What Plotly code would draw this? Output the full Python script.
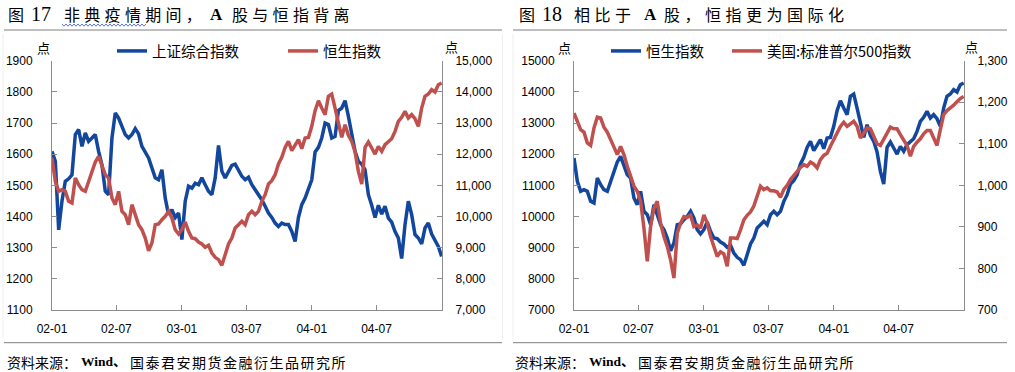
import pandas as pd
import plotly.graph_objects as go

# ---------------- data ----------------
start_date = "2002-01-01"
end_date = "2004-12-31"

sse = [1609, 1577, 1357, 1450, 1513, 1521, 1534, 1663, 1679, 1625,
       1668, 1641, 1652, 1663, 1609, 1566, 1481, 1470, 1652, 1732,
       1716, 1689, 1663, 1652, 1663, 1682, 1665, 1625, 1604, 1588,
       1556, 1524, 1518, 1550, 1459, 1406, 1422, 1397, 1411, 1326,
       1449, 1497, 1491, 1507, 1502, 1524, 1502, 1481, 1470, 1524,
       1628, 1545, 1524, 1545, 1564, 1568, 1550, 1529, 1518, 1526,
       1502, 1486, 1475, 1454, 1433, 1411, 1397, 1379, 1368, 1379,
       1374, 1374, 1352, 1320, 1397, 1438, 1459, 1491, 1518, 1607,
       1622, 1652, 1700, 1695, 1652, 1657, 1740, 1748, 1772, 1721,
       1671, 1609, 1577, 1568, 1550, 1470, 1436, 1397, 1436, 1408,
       1433, 1395, 1382, 1352, 1331, 1265, 1374, 1449, 1406, 1342,
       1331, 1312, 1363, 1379, 1344, 1326, 1304, 1272]

hsi = [11877, 11128, 10808, 10861, 10808, 10487, 10433, 11235, 11021, 10861,
       10808, 11107, 11449, 11749, 11931, 11663, 11342, 11235, 10594, 10380,
       10808, 10166, 10059, 9738, 10380, 10059, 9738, 9578, 9310, 8900,
       9150, 9738, 9759, 9898, 10005, 10166, 9952, 9578, 9439, 9578,
       9824, 9524, 9310, 9289, 9182, 9118, 9011, 9075, 8829, 8690,
       8615, 8433, 8776, 9118, 9310, 9631, 9738, 9845, 9738, 10059,
       10166, 10059, 10166, 10487, 10701, 11043, 11150, 11342, 11685, 11898,
       12219, 12412, 12112, 12283, 12465, 12177, 12519, 12540, 12893, 13396,
       13717, 13481, 13267, 13856, 13930, 13481, 13032, 12540, 12947, 12604,
       12412, 12070, 11449, 11043, 12219, 12390, 12198, 12005, 12251, 12091,
       12305, 12412, 12497, 12733, 13054, 13182, 13374, 13160, 13267, 13139,
       12893, 13481, 13856, 13930, 14070, 13995, 14230, 14283]

spx = [1174, 1154, 1134, 1128, 1102, 1096, 1138, 1164, 1162, 1140,
       1128, 1110, 1094, 1074, 1094, 1074, 1046, 1022, 998, 986,
       962, 897, 817, 901, 945, 962, 909, 877, 853, 821,
       777, 885, 909, 925, 923, 928, 901, 905, 897, 929,
       909, 877, 853, 829, 840, 835, 805, 873, 873, 872,
       893, 917, 928, 936, 950, 974, 998, 990, 994, 987,
       987, 984, 971, 990, 1000, 1014, 1024, 1035, 1043, 1050,
       1046, 1056, 1051, 1042, 1062, 1072, 1077, 1094, 1110, 1130,
       1142, 1152, 1142, 1148, 1154, 1142, 1114, 1126, 1138, 1136,
       1118, 1100, 1096, 1110, 1128, 1140, 1136, 1136, 1122, 1108,
       1096, 1070, 1094, 1104, 1112, 1124, 1132, 1132, 1114, 1096,
       1134, 1170, 1180, 1186, 1193, 1201, 1209, 1214]

tick_dates = ["2002-01-01", "2002-07-01", "2003-01-01", "2003-07-01", "2004-01-01", "2004-07-01"]
tick_text = ["02-01", "02-07", "03-01", "03-07", "04-01", "04-07"]

name_sse = "上证综合指数"
name_hsi = "恒生指数"
name_spx = "美国:标准普尔500指数"

dates = pd.date_range(start_date, end_date, periods=len(sse))

# ---------------- styling ----------------
W, H = 1015, 372
BLUE = "#12479d"
RED = "#c0504d"
GREY = "#8c8c8c"
NUM_FONT = "Liberation Sans, Arial, sans-serif"
CJK_FONT = "Noto Sans CJK SC"
SERIF = "Liberation Serif, Noto Sans CJK SC"


def px(x):
    return x / W


def py(y):
    return 1 - y / H


YDOM = [py(310), py(60.7)]
XL = [px(52), px(442)]
XR = [px(574), px(964)]

fig = go.Figure()
fig.add_trace(go.Scatter(x=dates, y=sse, name=name_sse, mode="lines", legendwidth=126,
                         line=dict(color=BLUE, width=3.5), xaxis="x", yaxis="y", legend="legend"))
fig.add_trace(go.Scatter(x=dates, y=hsi, name=name_hsi, mode="lines", legendwidth=70,
                         line=dict(color=RED, width=3.5), xaxis="x", yaxis="y2", legend="legend"))
fig.add_trace(go.Scatter(x=dates, y=hsi, name=name_hsi, mode="lines", legendwidth=76,
                         line=dict(color=BLUE, width=3.5), xaxis="x2", yaxis="y3", legend="legend2"))
fig.add_trace(go.Scatter(x=dates, y=spx, name=name_spx, mode="lines", legendwidth=165,
                         line=dict(color=RED, width=3.5), xaxis="x2", yaxis="y4", legend="legend2"))

common_axis = dict(showline=True, linecolor=GREY, linewidth=1, ticks="inside", ticklen=5,
                   tickcolor=GREY, tickwidth=1, showgrid=False, zeroline=False, automargin=False,
                   tickfont=dict(family=NUM_FONT, size=12, color="#000"))

xcommon = dict(common_axis, type="date", range=["2002-01-01", "2005-01-01"],
               tickvals=tick_dates, ticktext=tick_text, ticklabelstandoff=8)

legend_common = dict(orientation="h", xanchor="left", y=py(51), yanchor="middle",
                     bgcolor="rgba(0,0,0,0)", font=dict(family=CJK_FONT, size=14.5, color="#000"),
                     itemwidth=30)

fig.update_layout(
    width=W, height=H, margin=dict(l=0, r=0, t=0, b=0, autoexpand=False),
    paper_bgcolor="white", plot_bgcolor="white",
    xaxis=dict(xcommon, domain=XL, anchor="y"),
    yaxis=dict(common_axis, domain=YDOM, anchor="x", range=[1100, 1900], tick0=1100, dtick=100,
               tickformat="d", ticklabelstandoff=16),
    yaxis2=dict(common_axis, overlaying="y", side="right", anchor="x", range=[7000, 15000],
                tick0=7000, dtick=1000, tickformat=",d", ticklabelstandoff=10),
    xaxis2=dict(xcommon, domain=XR, anchor="y3"),
    yaxis3=dict(common_axis, domain=YDOM, anchor="x2", range=[7000, 15000], tick0=7000, dtick=1000,
                tickformat="d", ticklabelstandoff=16),
    yaxis4=dict(common_axis, overlaying="y3", side="right", anchor="x2", range=[700, 1300],
                tick0=700, dtick=100, tickformat=",d", ticklabelstandoff=10),
    legend=dict(legend_common, x=px(112)),
    legend2=dict(legend_common, x=px(606)),
    showlegend=True,
)

shapes = []
for (x0, x1) in [(4, 502), (513, 1007)]:
    shapes.append(dict(type="line", xref="paper", yref="paper", x0=px(x0), x1=px(x1),
                       y0=py(30), y1=py(30), line=dict(color="#7f7f7f", width=1)))
    shapes.append(dict(type="line", xref="paper", yref="paper", x0=px(x0), x1=px(x1),
                       y0=py(342.7), y1=py(342.7), line=dict(color="#7f7f7f", width=1)))
for xv in [3, 502.5, 513]:
    shapes.append(dict(type="line", xref="paper", yref="paper", x0=px(xv), x1=px(xv),
                       y0=py(338), y1=py(34), line=dict(color="#efefef", width=1)))
# wavy (spell-check style) underline under the first four title characters
wave_pts = []
xw = 62.0
i = 0
while xw <= 147.0:
    wave_pts.append((xw, 24.0 if i % 2 == 0 else 26.2))
    xw += 2.0
    i += 1
wave_path = "M" + " L".join("%.5f,%.5f" % (px(a), py(b)) for a, b in wave_pts)
shapes.append(dict(type="path", xref="paper", yref="paper", path=wave_path,
                   line=dict(color="#5577dd", width=1)))
fig.update_layout(shapes=shapes)


def sp(text, ls):
    return '<span style="letter-spacing:%.1fpx">%s</span>' % (ls, text)


title_pieces = [
    ("图", 6, CJK_FONT, 16, False, 0), ("17", 28.5, SERIF, 20, False, 0),
    ("非典疫情期间，", 61.7, CJK_FONT, 16, False, 4.3), ("A", 208, SERIF, 17, True, 0),
    ("股与恒指背离", 230, CJK_FONT, 16, False, 4.3),
    ("图", 516.7, CJK_FONT, 16, False, 0), ("18", 539.5, SERIF, 20, False, 0),
    ("相比于", 571.7, CJK_FONT, 16, False, 4.5), ("A", 641.7, SERIF, 17, True, 0),
    ("股，恒指更为国际化", 661.7, CJK_FONT, 16, False, 4.5),
]
src_pieces = [("资料来源：", 5, CJK_FONT, 14, False, 0), ("Wind、", 79, SERIF, 13.5, True, 0),
              ("国泰君安期货金融衍生品研究所", 128, CJK_FONT, 14, False, 1.5)]

ann = []
for (t, x, fam, sz, bold, ls) in title_pieces:
    txt = sp(t, ls) if ls else t
    if bold:
        txt = "<b>%s</b>" % txt
    ann.append(dict(text=txt, x=px(x), y=py(14.5), xref="paper", yref="paper", xanchor="left",
                    yanchor="middle", showarrow=False, font=dict(family=fam, size=sz, color="#000")))
for off in [0, 508.3]:
    for (t, x, fam, sz, bold, ls) in src_pieces:
        txt = sp(t, ls) if ls else t
        if bold:
            txt = "<b>%s</b>" % txt
        ann.append(dict(text=txt, x=px(x + off), y=py(361.5), xref="paper", yref="paper",
                        xanchor="left", yanchor="middle", showarrow=False,
                        font=dict(family=fam, size=sz, color="#000")))
for (xc, yc) in [(43, 47), (451.5, 46.3), (564, 47), (971, 46.3)]:
    ann.append(dict(text="点", x=px(xc), y=py(yc), xref="paper", yref="paper", xanchor="center",
                    yanchor="middle", showarrow=False, font=dict(family=CJK_FONT, size=13, color="#000")))
fig.update_layout(annotations=ann)

fig.write_html(
    "out.html",
    config={"displayModeBar": False},
    post_script="document.body.style.margin='0';document.body.style.padding='0';"
                "document.body.style.overflow='hidden';"
                "document.documentElement.style.overflow='hidden';",
)
